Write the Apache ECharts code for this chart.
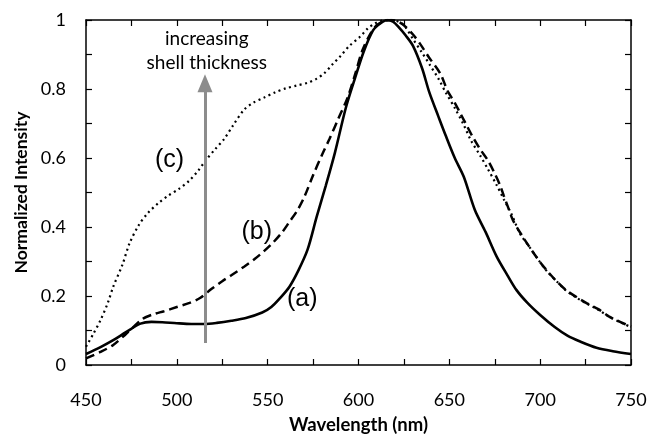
<!DOCTYPE html>
<html>
<head>
<meta charset="utf-8">
<script src="https://cdn.jsdelivr.net/npm/echarts@6/dist/echarts.min.js"></script>
<style>
  html, body { margin: 0; padding: 0; background: #fff; }
  #main { width: 651px; height: 441px; }
</style>
</head>
<body>
<div id="main"></div>
<script>
// spectra: wavelength (nm) and normalized intensity
var waveA = [450, 458, 465, 472, 480, 486, 492, 500, 508, 515, 522, 530, 538, 547, 552, 557, 562, 567, 572, 577, 582, 587, 593, 598, 603, 608, 612, 616, 619, 622, 626, 630, 635, 639, 644, 648, 653, 658, 664, 670, 676, 682, 687, 693, 700, 708, 715, 722, 731, 740, 750];
var intA = [0.032, 0.052, 0.072, 0.095, 0.12, 0.125, 0.124, 0.121, 0.119, 0.119, 0.122, 0.128, 0.136, 0.152, 0.168, 0.195, 0.227, 0.275, 0.335, 0.43, 0.52, 0.615, 0.745, 0.83, 0.91, 0.97, 0.99, 1.0, 0.995, 0.98, 0.955, 0.925, 0.86, 0.79, 0.72, 0.665, 0.6, 0.545, 0.45, 0.385, 0.315, 0.26, 0.217, 0.18, 0.145, 0.11, 0.085, 0.068, 0.05, 0.04, 0.032];

var waveB = [450, 458, 465, 472, 481, 487, 493, 500, 507, 513, 519, 525, 530, 537, 543, 548, 553, 558, 562, 566, 570, 575, 580, 584, 589, 594, 598, 602, 606, 610, 614, 618, 622, 626, 630, 634, 639, 645, 649, 653, 656, 660, 663, 667, 671, 675, 678, 680, 682, 685, 690, 694, 699, 704, 709, 714, 720, 726, 732, 738, 744, 750];
var intB = [0.019, 0.038, 0.058, 0.09, 0.133, 0.147, 0.156, 0.168, 0.18, 0.195, 0.22, 0.243, 0.26, 0.285, 0.308, 0.33, 0.355, 0.385, 0.415, 0.445, 0.485, 0.55, 0.61, 0.655, 0.715, 0.775, 0.84, 0.91, 0.955, 0.985, 0.997, 1.0, 0.995, 0.98, 0.958, 0.93, 0.89, 0.845, 0.795, 0.76, 0.73, 0.69, 0.66, 0.625, 0.595, 0.555, 0.52, 0.49, 0.462, 0.42, 0.375, 0.343, 0.305, 0.272, 0.243, 0.218, 0.197, 0.178, 0.162, 0.14, 0.125, 0.111];

var waveC = [450, 454, 458, 462, 465, 470, 474, 479, 484, 490, 495, 501, 507, 512, 516, 521, 526, 531, 537, 542, 548, 554, 560, 566, 572, 577, 581, 586, 590, 595, 601, 605, 609, 613, 618, 622, 625, 630, 635, 639, 644, 648, 653, 658, 662, 667, 671, 676, 680, 684, 689, 694, 699, 704, 709, 714, 720, 726, 732, 738, 744, 750];
var intC = [0.053, 0.09, 0.13, 0.18, 0.227, 0.29, 0.353, 0.405, 0.44, 0.47, 0.49, 0.51, 0.535, 0.565, 0.594, 0.625, 0.655, 0.695, 0.74, 0.76, 0.775, 0.79, 0.802, 0.81, 0.818, 0.83, 0.845, 0.873, 0.895, 0.925, 0.952, 0.975, 0.99, 0.998, 1.0, 0.995, 0.985, 0.945, 0.905, 0.872, 0.83, 0.79, 0.745, 0.695, 0.65, 0.607, 0.57, 0.522, 0.48, 0.44, 0.38, 0.343, 0.305, 0.27, 0.243, 0.217, 0.195, 0.177, 0.16, 0.14, 0.124, 0.11];

var xTicks = [450, 500, 550, 600, 650, 700, 750];
var yTicks = [0, 0.2, 0.4, 0.6, 0.8, 1];

// text labels on the plot, placed in data units
var curveLabels = [
  { text: '(a)', x: 569, y: 0.19 },
  { text: '(b)', x: 544, y: 0.385 },
  { text: '(c)', x: 496, y: 0.595 }
];
var noteLines = [
  { text: 'increasing', x: 516.5, y: 0.945 },
  { text: 'shell thickness', x: 516.5, y: 0.875 }
];
var arrowX = 515.5;
var arrowFrom = 0.064;
var arrowTo = 0.817;

function pairs(xs, ys) {
  var out = [];
  for (var i = 0; i < xs.length; i++) out.push([xs[i], ys[i]]);
  return out;
}

var chart = echarts.init(document.getElementById('main'), null, { renderer: 'canvas' });

var tickFont = 'Lato, "Open Sans", sans-serif';
var axisLineStyle = { color: '#000', width: 1.5 };

function xAxisDef(pos, showLabel) {
  return {
    type: 'value', position: pos, min: 450, max: 750, interval: 50,
    axisLine: { show: true, onZero: false, lineStyle: axisLineStyle },
    axisTick: { show: true, inside: true, length: 6, lineStyle: { color: '#000', width: 1.2 } },
    minorTick: { show: true, splitNumber: 2, length: 6, lineStyle: { color: '#000', width: 1.2 } },
    splitLine: { show: false },
    axisLabel: {
      show: showLabel, margin: 26, color: '#000', fontSize: 18, fontFamily: tickFont,
      formatter: function (v) { return xTicks.indexOf(v) >= 0 ? String(v) : ''; }
    }
  };
}
function yAxisDef(pos, showLabel) {
  return {
    type: 'value', position: pos, min: 0, max: 1, interval: 0.2,
    axisLine: { show: true, onZero: false, lineStyle: axisLineStyle },
    axisTick: { show: true, inside: true, length: 6, lineStyle: { color: '#000', width: 1.2 } },
    minorTick: { show: true, splitNumber: 2, length: 6, lineStyle: { color: '#000', width: 1.2 } },
    splitLine: { show: false },
    axisLabel: {
      show: showLabel, margin: 20, color: '#000', fontSize: 18, fontFamily: tickFont,
      formatter: function (v) {
        var r = Math.round(v * 10) / 10;
        return yTicks.indexOf(r) >= 0 ? String(r) : '';
      }
    }
  };
}

var xBottom = xAxisDef('bottom', true);
xBottom.name = 'Wavelength (nm)';
xBottom.nameLocation = 'middle';
xBottom.nameGap = 51;
xBottom.nameTextStyle = { color: '#000', fontSize: 18.5, fontWeight: 'bold', fontFamily: tickFont };

var yLeft = yAxisDef('left', true);
yLeft.name = 'Normalized Intensity';
yLeft.nameLocation = 'middle';
yLeft.nameGap = 56;
yLeft.nameTextStyle = { color: '#000', fontSize: 17.5, fontWeight: 'bold', fontFamily: tickFont };

var option = {
  animation: false,
  backgroundColor: '#fff',
  grid: { left: 86, right: 20, top: 20, bottom: 76, containLabel: false, outerBoundsMode: 'none' },
  xAxis: [xBottom, xAxisDef('top', false)],
  yAxis: [yLeft, yAxisDef('right', false)],
  series: [
    {
      name: '(c)', type: 'line', data: pairs(waveC, intC), smooth: 0.3, showSymbol: false,
      lineStyle: { color: '#000', width: 2.2, type: [2, 3.5] }
    },
    {
      name: '(b)', type: 'line', data: pairs(waveB, intB), smooth: 0.3, showSymbol: false,
      lineStyle: { color: '#000', width: 2.5, type: [9, 5] }
    },
    {
      name: '(a)', type: 'line', data: pairs(waveA, intA), smooth: 0.3, showSymbol: false,
      lineStyle: { color: '#000', width: 2.6 },
      markLine: {
        silent: true,
        symbol: ['none', 'triangle'],
        symbolSize: [15, 18],
        label: { show: false },
        lineStyle: { color: '#8c8c8c', width: 3, type: 'solid' },
        data: [[{ coord: [arrowX, arrowFrom] }, { coord: [arrowX, arrowTo] }]]
      }
    }
  ]
};

chart.setOption(option);

// annotations placed through the chart's own scales
var graphics = [];
curveLabels.forEach(function (l) {
  var p = chart.convertToPixel({ gridIndex: 0 }, [l.x, l.y]);
  graphics.push({
    type: 'text', x: p[0], y: p[1],
    style: { text: l.text, fill: '#000', font: '25px "Liberation Sans", Arial, sans-serif', textAlign: 'center', textVerticalAlign: 'middle' }
  });
});
noteLines.forEach(function (l) {
  var p = chart.convertToPixel({ gridIndex: 0 }, [l.x, l.y]);
  graphics.push({
    type: 'text', x: p[0], y: p[1],
    style: { text: l.text, fill: '#000', font: '19px Lato, "Open Sans", sans-serif', textAlign: 'center', textVerticalAlign: 'middle' }
  });
});
chart.setOption({ graphic: graphics });
</script>
</body>
</html>
